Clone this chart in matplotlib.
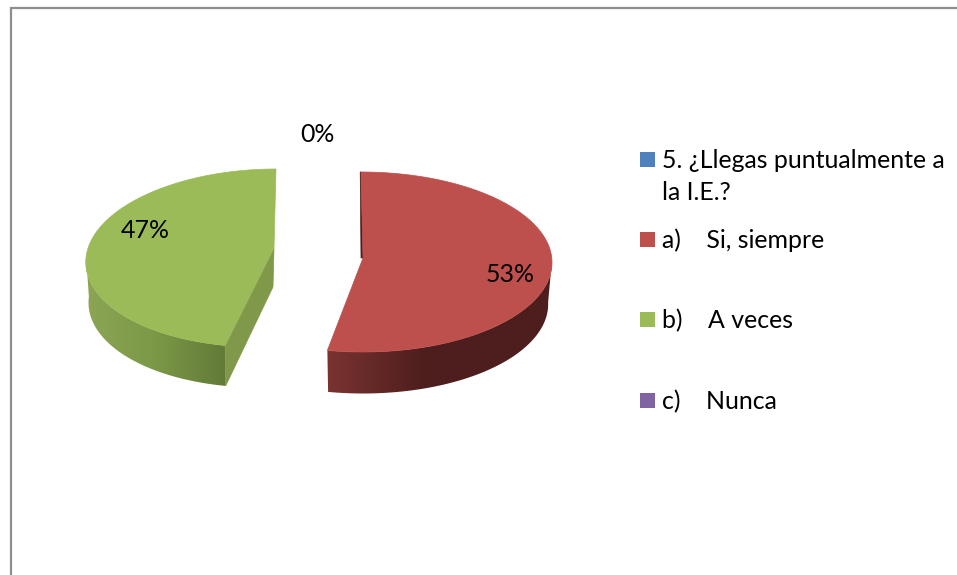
import numpy as np
import matplotlib
matplotlib.use("Agg")
import matplotlib.pyplot as plt
from matplotlib.patches import Polygon, Rectangle
from matplotlib.colors import to_rgb

categories = ["5. ¿Llegas puntualmente a\nla I.E.?", "a)    Si, siempre", "b)    A veces", "c)    Nunca"]
values = [0, 53, 47, 0]
colors = ["#4f81bd", "#bd4f4c", "#9bbb59", "#8064a2"]

FONT = "Lato"
FS = 17.9

fig = plt.figure(figsize=(9.57, 5.75), dpi=100)
ax = fig.add_axes([0, 0, 1, 1])
ax.axis("off")

# chart frame
ax.plot([10.5, 10.5, 957], [575, 8, 8], color="#8e8e8e", lw=1.6, solid_joinstyle="miter")

geom = {
    1: dict(cx=361, cy=262, a=190, b=90, skew=2, apex=(363, 258), depth=41.5, shrink=0.98,
            grad=[(327, "#7a3331"), (425, "#4d1e1d"), (552, "#4d1e1d")]),
    2: dict(cx=276, cy=258, a=181.5, b=89, skew=-17, apex=(274, 248), depth=40.5, shrink=0.985,
            grad=[(86, "#8ba554"), (150, "#7d9a48"), (226, "#627a37")]),
}

fractions = np.array(values, dtype=float) / sum(values)
ends = np.cumsum(fractions) * 2 * np.pi
starts = ends - fractions * 2 * np.pi


def arc(g, th, scale=1.0, drop=0.0):
    x = g["cx"] + g["a"] * scale * np.sin(th) + g["skew"] * (1 - np.cos(th)) / 2
    y = g["cy"] - g["b"] * np.cos(th) + drop
    return x, y


for i, g in geom.items():
    th = np.linspace(starts[i], ends[i], 400)
    xt, yt = arc(g, th)

    # outer wall: horizontal gradient clipped to the visible front part of the rim
    vis = th[np.cos(th) <= 0.02]
    xvt, yvt = arc(g, vis)
    xvb, yvb = arc(g, vis, g["shrink"], g["depth"])
    wall = np.vstack([np.column_stack([xvt, yvt]), np.column_stack([xvb, yvb])[::-1]])
    gx = [p[0] for p in g["grad"]]
    gc = np.array([to_rgb(p[1]) for p in g["grad"]])
    xs = np.arange(wall[:, 0].min() - 2, wall[:, 0].max() + 3)
    strip = np.stack([np.interp(xs, gx, gc[:, c]) for c in range(3)], axis=-1)[None, :, :]
    im = ax.imshow(strip, extent=(xs[0], xs[-1], wall[:, 1].max() + 2, wall[:, 1].min() - 2),
                   aspect="auto", interpolation="bilinear", zorder=2)
    im.set_clip_path(Polygon(wall, closed=True, transform=ax.transData))

    if i == 2:
        # cut wall seen on the right of the green slice
        ex, ey = arc(g, starts[i])
        ebx, eby = arc(g, starts[i], g["shrink"], g["depth"])
        ax.add_patch(Polygon([g["apex"], (ex, ey), (ebx, eby), (g["apex"][0] - 1, g["apex"][1] + 39)],
                             closed=True, fc="#7f9849", ec="#7f9849", lw=0.5, zorder=3))
    if i == 1:
        # thin dark cut wall along the top-left edge
        ex, ey = arc(g, starts[i])
        ax.add_patch(Polygon([(ex, ey), g["apex"], (g["apex"][0] - 2, g["apex"][1]), (ex - 0.8, ey)],
                             closed=True, fc="#4d1e1d", ec="#4d1e1d", lw=0.5, zorder=3))

    top = np.column_stack([xt, yt])
    ax.add_patch(Polygon(np.vstack([[g["apex"]], top]), closed=True, fc=colors[i], ec=colors[i], lw=0.5, zorder=4))

# data labels
label_pos = {0: (317, 135), 1: (510, 274), 2: (145, 230)}
for i, (x, y) in label_pos.items():
    ax.text(x, y, f"{values[i]}%", ha="center", va="center", family=FONT, fontsize=FS, color="black", zorder=6)

# legend
sq_y = [152, 232, 312, 393]
for cat, col, y in zip(categories, colors, sq_y):
    ax.add_patch(Rectangle((640, y), 15, 15, fc=col, ec="none", zorder=5))
    parts = cat.split("\n")
    ax.text(662, y + 16.5, parts[0], ha="left", va="baseline", family=FONT, fontsize=FS, color="black", zorder=6)
    if len(parts) > 1:
        ax.text(662, y + 48, parts[1], ha="left", va="baseline", family=FONT, fontsize=FS, color="black", zorder=6)

ax.set_xlim(0, 957)
ax.set_ylim(575, 0)

fig.savefig("out.png", dpi=100)
